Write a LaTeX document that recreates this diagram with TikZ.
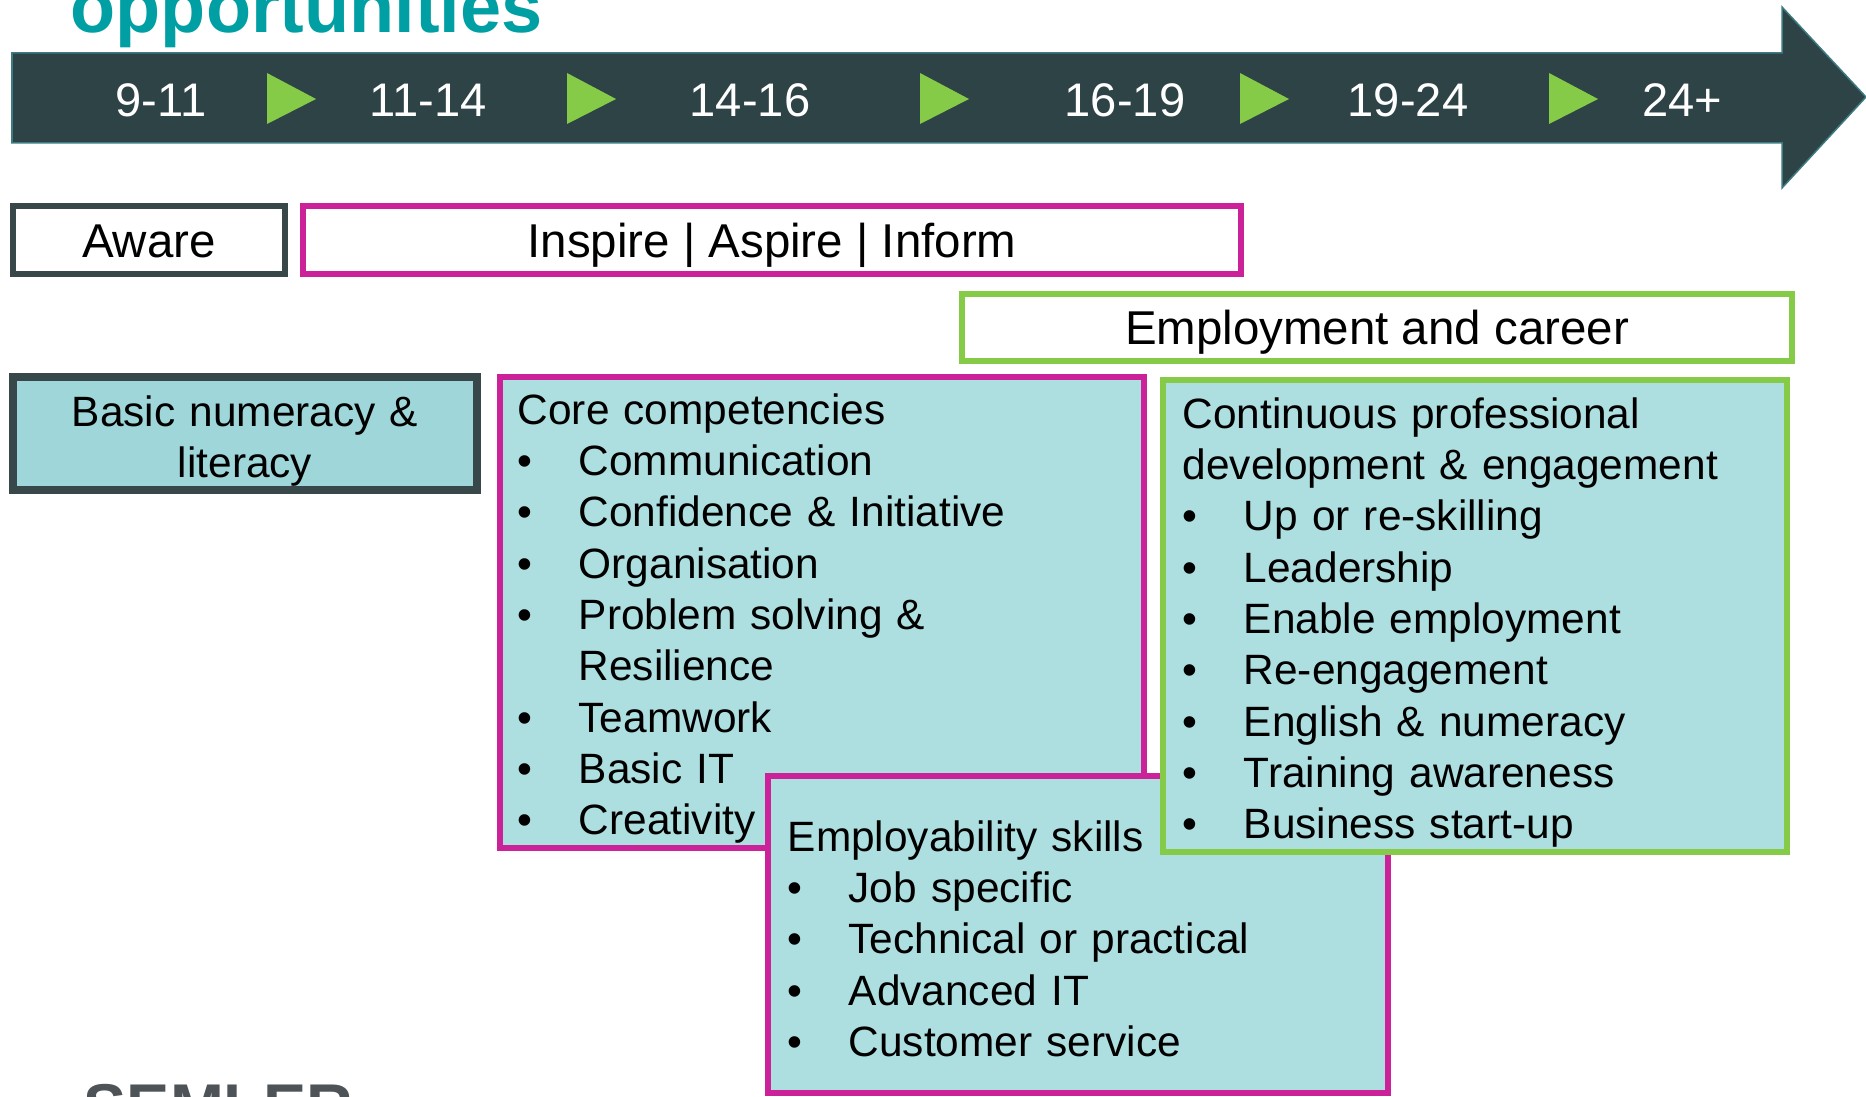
\documentclass[tikz,border=0pt]{standalone}
\usepackage{fontspec}
\setmainfont{Liberation Sans}
\usepackage{xcolor}
\usepackage{tikz}
\usetikzlibrary{positioning}

\definecolor{slate}{HTML}{2E4346}
\definecolor{slateline}{HTML}{3D7B82}
\definecolor{boxedge}{HTML}{37474A}
\definecolor{titleteal}{HTML}{009FA3}
\definecolor{agegreen}{HTML}{86CB47}
\definecolor{pinkedge}{HTML}{CC2299}
\definecolor{skillfill}{HTML}{ADDEE0}
\definecolor{basicfill}{HTML}{9ED6D9}
\definecolor{logogray}{HTML}{4D5357}

\newcommand{\bul}{\makebox[0.61cm][l]{\textbullet}}
\newcommand{\nobul}{\hspace*{0.61cm}}

\begin{document}
\begin{tikzpicture}[x=0.01cm, y=-0.01cm,
  stage/.style={draw, line width=0.06cm, fill=white, inner sep=0pt, minimum height=0.68cm, font=\fontsize{13.5pt}{16pt}\selectfont, text height=0.34cm, text depth=0cm},
  skills/.style={draw, line width=0.06cm, fill=skillfill, inner sep=0pt},
  skilltext/.style={anchor=base west, inner sep=0pt, align=left, font=\fontsize{12.06pt}{14.6pt}\selectfont},
  age/.style={text=white, anchor=base, inner sep=0pt, font=\fontsize{13.4pt}{16pt}\selectfont},
]
  \useasboundingbox (0,0) rectangle (1866,1097);

  % age band
  \fill[slate, draw=slateline, line width=0.015cm] (12,53) -- (1782,53) -- (1782,7) -- (1866,97) -- (1782,188) -- (1782,143) -- (12,143) -- cycle;
  \foreach \x in {267,567,920,1240,1549}
    \fill[agegreen] (\x,73) -- (\x+49,99) -- (\x,124) -- cycle;
  \foreach \a/\x [count=\i] in {9-11/161, 11-14/428, 14-16/750, 16-19/1125, 19-24/1408, 24+/1682}
    \node[age] (age\i) at (\x,117) {\a};

  \node[anchor=base west, inner sep=0pt, text=titleteal, font=\fontsize{21pt}{25pt}\selectfont\bfseries] (title) at (70,33) {opportunities};

  % stages
  \node[stage, draw=boxedge, minimum width=2.72cm] (aware) at (149,240) {Aware};
  \node[stage, draw=pinkedge, minimum width=9.38cm] (inspire) at (772,240) {Inspire | Aspire | Inform};
  \node[stage, draw=agegreen, minimum width=8.30cm, minimum height=0.67cm] (career) at (1377,327.5) {Employment and career};

  % skills
  \node[skills, draw=boxedge, fill=basicfill, line width=0.075cm, minimum width=4.64cm, minimum height=1.13cm] (basic) at (245,433.5) {};
  \node[skilltext, anchor=base, align=center, text width=4.4cm] (basictext) at (245,426) {Basic numeracy \&\\ literacy};

  \node[skills, draw=pinkedge, minimum width=6.44cm, minimum height=4.71cm] (core) at (822,612.5) {};
  \node[skilltext, text width=6.1cm] (coretext) at (517,424) {Core competencies\\
    \bul Communication\\
    \bul Confidence \& Initiative\\
    \bul Organisation\\
    \bul Problem solving \&\\
    \nobul Resilience\\
    \bul Teamwork\\
    \bul Basic IT\\
    \bul Creativity};

  \node[skills, draw=pinkedge, minimum width=6.20cm, minimum height=3.17cm] (employ) at (1078,934.5) {};
  \node[skilltext, text width=5.9cm] (employtext) at (787,851) {Employability skills\\
    \bul Job specific\\
    \bul Technical or practical\\
    \bul Advanced IT\\
    \bul Customer service};

  \node[skills, draw=agegreen, minimum width=6.24cm, minimum height=4.72cm] (cpd) at (1475,616) {};
  \node[skilltext, text width=5.9cm] (cpdtext) at (1182,428) {Continuous professional\\
    development \& engagement\\
    \bul Up or re-skilling\\
    \bul Leadership\\
    \bul Enable employment\\
    \bul Re-engagement\\
    \bul English \& numeracy\\
    \bul Training awareness\\
    \bul Business start-up};

  \node[anchor=base west, inner sep=0pt, text=logogray, font=\fontsize{18.4pt}{22pt}\selectfont\bfseries] (logo) at (83,1129) {SEMLER};
\end{tikzpicture}
\end{document}
